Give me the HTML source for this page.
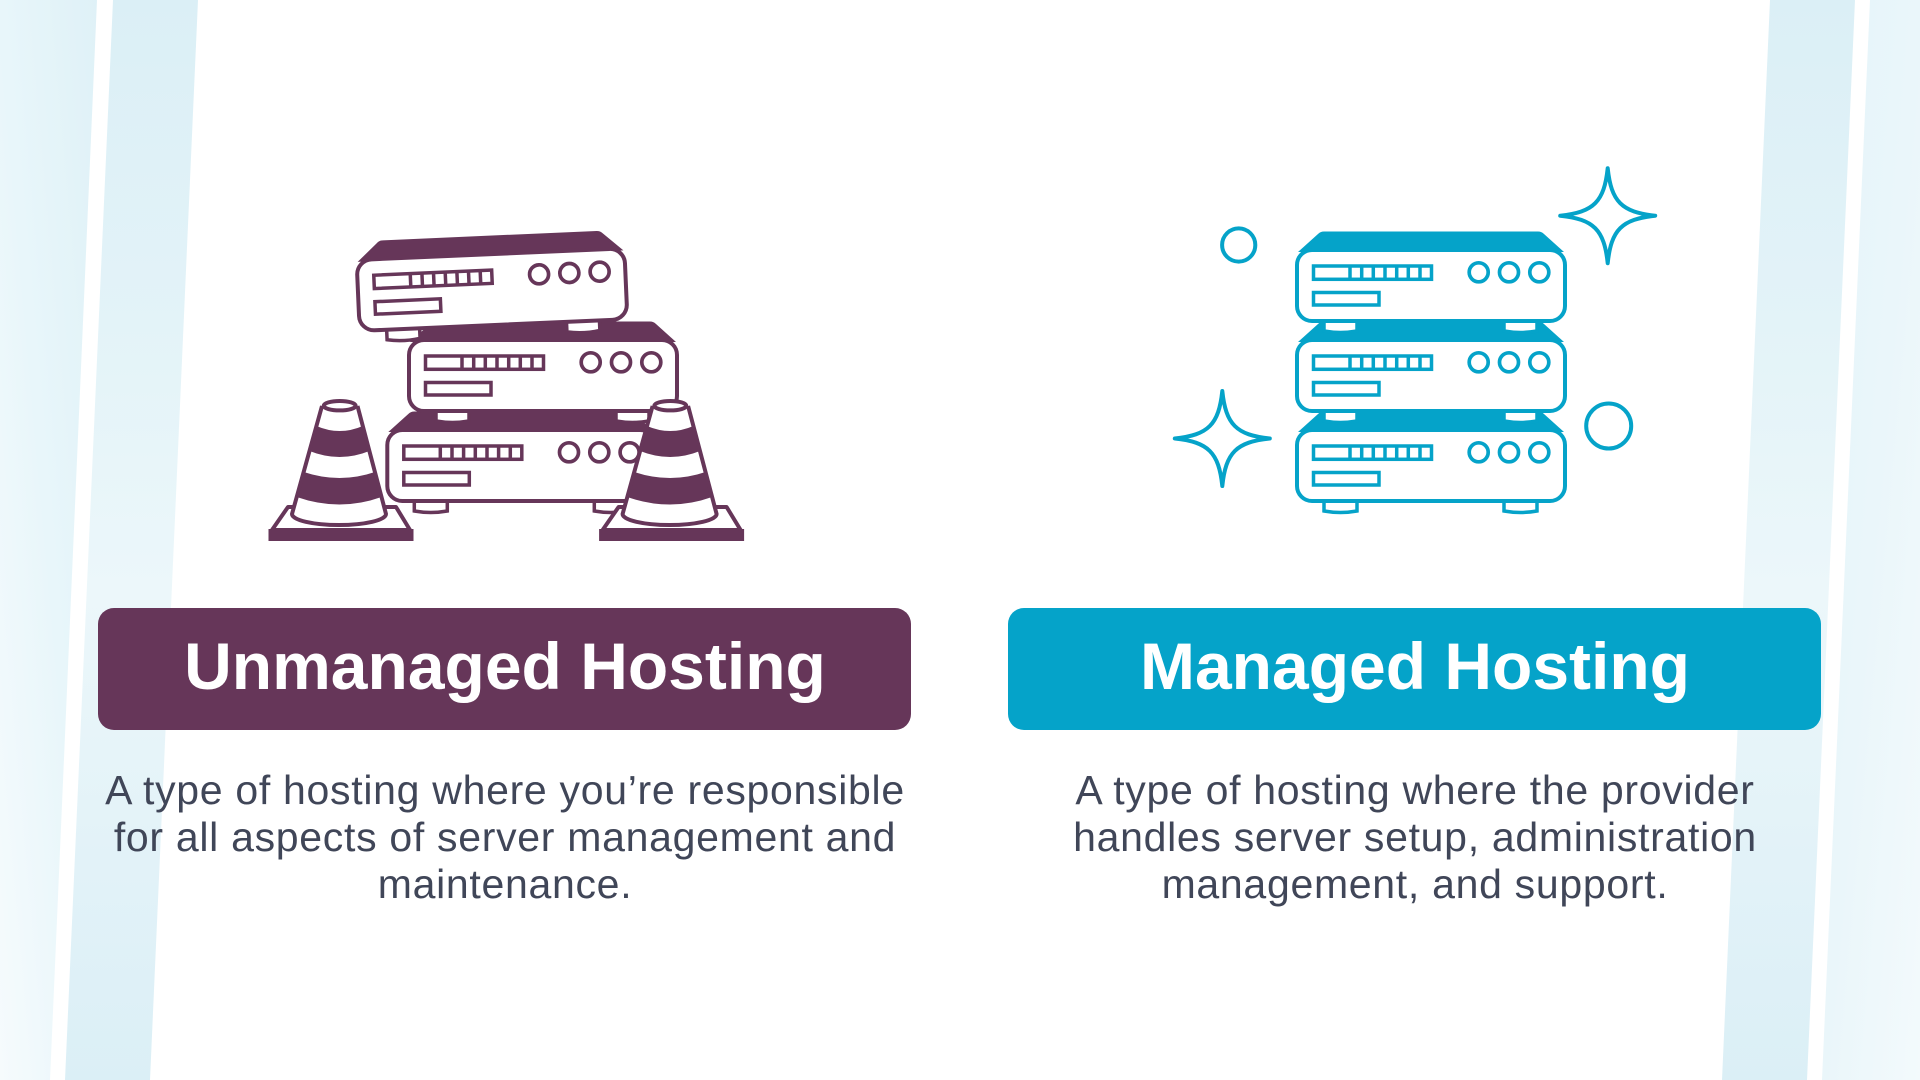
<!DOCTYPE html>
<html>
<head>
<meta charset="utf-8">
<style>
  html,body{margin:0;padding:0;background:#fff;}
  body{width:1920px;height:1080px;overflow:hidden;}
  svg{display:block;}
  .title{font-family:"Liberation Sans",Arial,sans-serif;font-weight:bold;font-size:66px;fill:#ffffff;}
  .desc{font-family:"Liberation Sans",Arial,sans-serif;font-size:41px;fill:#404658;letter-spacing:0.7px;}
</style>
</head>
<body>
<svg width="1920" height="1080" viewBox="0 0 1920 1080" xmlns="http://www.w3.org/2000/svg">
  <defs>
    <linearGradient id="gS1" x1="1" y1="0" x2="0" y2="1">
      <stop offset="0" stop-color="#dff1f7"/>
      <stop offset="0.5" stop-color="#e8f6fa"/>
      <stop offset="1" stop-color="#f6fbfd"/>
    </linearGradient>
    <linearGradient id="gS2" x1="0" y1="0" x2="0" y2="1">
      <stop offset="0" stop-color="#dbeff6"/>
      <stop offset="0.3" stop-color="#e3f3f8"/>
      <stop offset="0.55" stop-color="#ecf7fa"/>
      <stop offset="0.8" stop-color="#e2f2f8"/>
      <stop offset="1" stop-color="#dbeff6"/>
    </linearGradient>
    <linearGradient id="gS4" x1="0" y1="0" x2="1" y2="1">
      <stop offset="0" stop-color="#e4f4f9"/>
      <stop offset="0.5" stop-color="#eaf6fa"/>
      <stop offset="1" stop-color="#f3fafc"/>
    </linearGradient>

    <!-- server component: body outer top-left at (0,0), outer size 272x75 -->
    <g id="srv">
      <path d="M29,68 V83 Q45.5,86 62,83 V68 Z" fill="#fff" stroke="currentColor" stroke-width="3.5"/>
      <path d="M209,68 V83 Q225.5,86 242,83 V68 Z" fill="#fff" stroke="currentColor" stroke-width="3.5"/>
      <path d="M3,4 L23,-14 Q25.5,-16.5 29,-16.5 L243,-16.5 Q246.5,-16.5 249,-14 L269,4 Z" fill="currentColor"/>
      <rect x="2" y="2" width="268" height="71" rx="15" ry="15" fill="#fff" stroke="currentColor" stroke-width="4"/>
      <rect x="18.5" y="18" width="118" height="13.3" fill="none" stroke="currentColor" stroke-width="3.5"/>
      <path d="M55,18 V31.3 M66.7,18 V31.3 M78.3,18 V31.3 M90,18 V31.3 M101.7,18 V31.3 M113.3,18 V31.3 M125,18 V31.3" stroke="currentColor" stroke-width="3.5" fill="none"/>
      <rect x="18.5" y="44.5" width="65.5" height="12.5" fill="none" stroke="currentColor" stroke-width="3.5"/>
      <circle cx="183.7" cy="24.3" r="9.5" fill="none" stroke="currentColor" stroke-width="3.7"/>
      <circle cx="214" cy="24.3" r="9.5" fill="none" stroke="currentColor" stroke-width="3.7"/>
      <circle cx="244.3" cy="24.3" r="9.5" fill="none" stroke="currentColor" stroke-width="3.7"/>
    </g>

    <clipPath id="coneClip" clipPathUnits="userSpaceOnUse">
      <path d="M322,406 L292,514 A47,11 0 0 0 386,514 L357.5,406 Z"/>
    </clipPath>

    <g id="cone">
      <path d="M288,507 L396,507 L410,530 L272,530 Z" fill="#fff" stroke="currentColor" stroke-width="4" stroke-linejoin="round"/>
      <rect x="268.5" y="529" width="145" height="12" fill="currentColor"/>
      <path d="M322,406 L292,514 A47,11 0 0 0 386,514 L357.5,406 Z" fill="#fff"/>
      <g clip-path="url(#coneClip)" fill="currentColor">
        <path d="M280,426 L316.4,426 Q339.7,436 362.8,426 L400,426 L400,451 L369.4,451 Q339.7,463 309.5,451 L280,451 Z"/>
        <path d="M280,472 L303.7,472 Q339.7,484 374.9,472 L400,472 L400,497 L381.5,497 Q339.7,512 296.7,497 L280,497 Z"/>
      </g>
      <path d="M322,406 L292,514 A47,11 0 0 0 386,514 L357.5,406" fill="none" stroke="currentColor" stroke-width="4" stroke-linejoin="round"/>
      <ellipse cx="339.7" cy="405.7" rx="16" ry="4.7" fill="#fff" stroke="currentColor" stroke-width="4"/>
    </g>

    <path id="star" d="M0,-47.5 C3.5,-14 14,-3.5 47.5,0 C14,3.5 3.5,14 0,47.5 C-3.5,14 -14,3.5 -47.5,0 C-14,-3.5 -3.5,-14 0,-47.5 Z"/>
  </defs>

  <!-- background stripes -->
  <rect x="0" y="0" width="1920" height="1080" fill="#ffffff"/>
  <polygon points="0,0 97,0 50,1080 0,1080" fill="url(#gS1)"/>
  <polygon points="113,0 198,0 150,1080 65,1080" fill="url(#gS2)"/>
  <polygon points="1770,0 1855,0 1807,1080 1722,1080" fill="url(#gS2)"/>
  <polygon points="1870,0 1920,0 1920,1080 1822,1080" fill="url(#gS4)"/>

  <!-- LEFT illustration: unmanaged -->
  <g color="#663659">
    <use href="#srv" transform="translate(385.3,428)"/>
    <use href="#srv" transform="translate(407,338)"/>
    <use href="#srv" transform="translate(492,289.6) rotate(-2.5) translate(-136,-37.5)"/>
    <use href="#cone"/>
    <use href="#cone" transform="translate(330.6,0)"/>
  </g>

  <!-- RIGHT illustration: managed -->
  <g color="#05a3c9">
    <use href="#srv" transform="translate(1295,428)"/>
    <use href="#srv" transform="translate(1295,338)"/>
    <use href="#srv" transform="translate(1295,248)"/>
    <use href="#star" transform="translate(1607.7,215.7)" fill="#fff" stroke="currentColor" stroke-width="4" stroke-linejoin="round"/>
    <use href="#star" transform="translate(1222.3,438.5)" fill="#fff" stroke="currentColor" stroke-width="4" stroke-linejoin="round"/>
    <circle cx="1238.7" cy="245" r="16.6" fill="none" stroke="currentColor" stroke-width="4"/>
    <circle cx="1608.7" cy="426" r="22.5" fill="none" stroke="currentColor" stroke-width="4"/>
  </g>

  <!-- title boxes -->
  <rect x="98" y="608" width="813" height="122" rx="16" ry="16" fill="#663659"/>
  <rect x="1008" y="608" width="813" height="122" rx="16" ry="16" fill="#05a3c9"/>

  <text class="title" x="505" y="689" text-anchor="middle">Unmanaged Hosting</text>
  <text class="title" x="1415" y="689" text-anchor="middle">Managed Hosting</text>

  <text class="desc" x="505" y="804" text-anchor="middle">A type of hosting where you’re responsible</text>
  <text class="desc" x="505" y="851" text-anchor="middle">for all aspects of server management and</text>
  <text class="desc" x="505" y="898" text-anchor="middle">maintenance.</text>

  <text class="desc" x="1415" y="804" text-anchor="middle">A type of hosting where the provider</text>
  <text class="desc" x="1415" y="851" text-anchor="middle">handles server setup, administration</text>
  <text class="desc" x="1415" y="898" text-anchor="middle">management, and support.</text>
</svg>
</body>
</html>
